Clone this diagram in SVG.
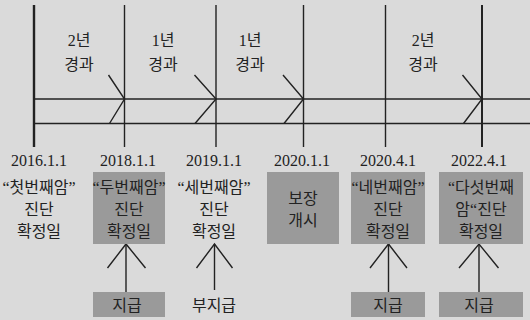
<svg xmlns="http://www.w3.org/2000/svg" width="530" height="320" viewBox="0 0 530 320">
<style>
.t{font-family:"Liberation Serif","Noto Sans CJK KR",serif;font-size:16px;fill:#222;text-anchor:middle}
.l{stroke:#222;stroke-width:1.4;fill:none}
.box{fill:#9a9a9a}
</style>
<rect width="530" height="320" fill="#dadada"/>
<g id="connectors">
<line class="l" x1="34" y1="5" x2="34" y2="147" style="stroke-width:2.4"/>
<line class="l" x1="124.5" y1="5" x2="124.5" y2="147"/>
<line class="l" x1="216" y1="5" x2="216" y2="147"/>
<line class="l" x1="303.5" y1="5" x2="303.5" y2="147"/>
<line class="l" x1="385.5" y1="5" x2="385.5" y2="147"/>
<line class="l" x1="482" y1="5" x2="482" y2="147" style="stroke-width:2"/>
<line class="l" x1="34" y1="99" x2="530" y2="99"/>
<line class="l" x1="34" y1="123.5" x2="530" y2="123.5"/>
<polyline class="l" points="108.5,75 124.5,99 109.5,123.5"/>
<polyline class="l" points="194.5,75 216,99 195,123.5"/>
<polyline class="l" points="283,75 303.5,99 284,123.5"/>
<polyline class="l" points="462.5,75 482,99 463.5,123.5"/>
<line class="l" x1="126" y1="244" x2="126" y2="292"/>
<polyline class="l" points="107.5,268 126,244 145.5,268"/>
<line class="l" x1="214.5" y1="244" x2="214.5" y2="290"/>
<polyline class="l" points="196.5,268 214.5,244 232.5,268"/>
<line class="l" x1="388.5" y1="244" x2="388.5" y2="292"/>
<polyline class="l" points="370,268 388.5,244 407,268"/>
<line class="l" x1="479" y1="244" x2="479" y2="292"/>
<polyline class="l" points="459,268 479,244 498.5,268"/>
</g>
<g id="period1"><text class="t" x="79" y="46">2년</text><text class="t" x="79" y="70">경과</text></g>
<g id="period2"><text class="t" x="163" y="46">1년</text><text class="t" x="163" y="70">경과</text></g>
<g id="period3"><text class="t" x="250" y="46">1년</text><text class="t" x="250" y="70">경과</text></g>
<g id="period4"><text class="t" x="423" y="46">2년</text><text class="t" x="423" y="70">경과</text></g>
<g id="d2016"><text class="t" x="39" y="166">2016.1.1</text>
<text class="t" x="39" y="193">“첫번째암”</text><text class="t" x="39" y="215">진단</text><text class="t" x="39" y="237">확정일</text></g>
<g id="d2018"><text class="t" x="128" y="166">2018.1.1</text>
<rect class="box" x="93" y="172" width="72" height="72"/>
<text class="t" x="129" y="193">“두번째암”</text><text class="t" x="129" y="215">진단</text><text class="t" x="129" y="237">확정일</text></g>
<g id="d2019"><text class="t" x="214" y="166">2019.1.1</text>
<text class="t" x="214" y="193">“세번째암”</text><text class="t" x="214" y="215">진단</text><text class="t" x="214" y="237">확정일</text></g>
<g id="d2020a"><text class="t" x="302" y="166">2020.1.1</text>
<rect class="box" x="267" y="172" width="72" height="72"/>
<text class="t" x="303" y="204">보장</text><text class="t" x="303" y="226">개시</text></g>
<g id="d2020b"><text class="t" x="388" y="166">2020.4.1</text>
<rect class="box" x="351" y="172" width="74" height="72"/>
<text class="t" x="388" y="193">“네번째암”</text><text class="t" x="388" y="215">진단</text><text class="t" x="388" y="237">확정일</text></g>
<g id="d2022"><text class="t" x="479" y="166">2022.4.1</text>
<rect class="box" x="439" y="172" width="84" height="72"/>
<text class="t" x="481" y="193">“다섯번째</text><text class="t" x="481" y="215">암“진단</text><text class="t" x="481" y="237">확정일</text></g>
<g id="pay1"><rect class="box" x="93" y="292" width="72" height="25"/><text class="t" x="127" y="311">지급</text></g>
<g id="nopay"><text class="t" x="214" y="311">부지급</text></g>
<g id="pay2"><rect class="box" x="351" y="292" width="74" height="25"/><text class="t" x="388" y="311">지급</text></g>
<g id="pay3"><rect class="box" x="439" y="292" width="84" height="25"/><text class="t" x="479" y="311">지급</text></g>
</svg>
